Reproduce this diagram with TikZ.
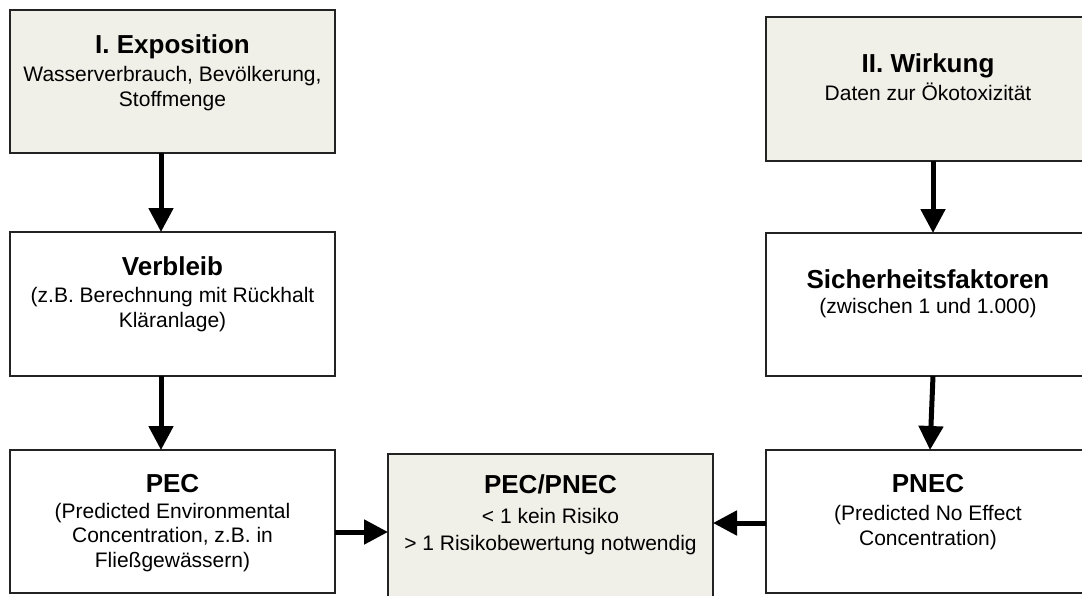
\documentclass[tikz,border=0pt]{standalone}
\usepackage{fontspec}
\setmainfont{Liberation Sans}
\usetikzlibrary{arrows.meta}
\definecolor{boxfill}{RGB}{240,240,232}
\definecolor{boxline}{RGB}{35,35,35}
\begin{document}
\begin{tikzpicture}[x=1pt,y=-1pt,
  box/.style={draw=boxline, line width=1.3pt, minimum width=325pt, minimum height=143pt,
    anchor=north west, inner sep=0pt, outer sep=0pt},
  shaded/.style={box, fill=boxfill},
  ttl/.style={font=\fontsize{26}{30}\selectfont\bfseries, anchor=base, inner sep=0pt},
  txt/.style={font=\fontsize{21}{24.5}\selectfont, anchor=base, align=center, inner sep=0pt},
  arr/.style={line width=5pt, -{Triangle[length=24pt,width=24pt]}}]
\useasboundingbox (0,0) rectangle (1082,595);
\clip (0,0) rectangle (1082,595);
% boxes
\node[shaded] (expo) at (10,10) {};
\node[shaded, minimum width=324pt, minimum height=144pt] (wirk) at (766,17) {};
\node[box, minimum height=144pt] (verb) at (10,232) {};
\node[box, minimum width=324pt] (sich) at (766,233) {};
\node[box] (pec) at (10,450) {};
\node[shaded, minimum height=150pt] (ratio) at (388,454) {};
\node[box, minimum width=324pt] (pnec) at (766,450) {};
% texts (multi-line nodes are placed at the baseline of their last line)
\node[ttl] (t1) at (172.5,53) {I. Exposition};
\node[txt] (s1) at (172.5,106) {Wasserverbrauch, Bevölkerung,\\Stoffmenge};
\node[ttl] (t2) at (928,72) {II. Wirkung};
\node[txt] (s2) at (928,100) {Daten zur Ökotoxizität};
\node[ttl] (t3) at (172.5,275) {Verbleib};
\node[txt] (s3) at (172.5,327) {(z.B. Berechnung mit Rückhalt\\Kläranlage)};
\node[ttl] (t4) at (928,288) {Sicherheitsfaktoren};
\node[txt] (s4) at (928,313) {(zwischen 1 und 1.000)};
\node[ttl] (t5) at (172.5,492) {PEC};
\node[txt] (s5) at (172.5,567) {(Predicted Environmental\\Concentration, z.B. in\\Fließgewässern)};
\node[ttl] (t6) at (550.5,493) {PEC/PNEC};
\node[txt, font=\fontsize{21}{27}\selectfont] (s6) at (550.5,550) {< 1 kein Risiko\\> 1 Risikobewertung notwendig};
\node[ttl] (t7) at (928,492) {PNEC};
\node[txt] (s7) at (928,545) {(Predicted No Effect\\Concentration)};
% arrows
\draw[arr] ([xshift=-11.5pt]expo.south) -- ([xshift=-11.5pt]verb.north);
\draw[arr] ([xshift=-11.5pt]verb.south) -- ([xshift=-11.5pt]pec.north);
\draw[arr] ([xshift=5pt]wirk.south) -- ([xshift=5pt]sich.north);
\draw[arr] ([xshift=5pt]sich.south) -- ([xshift=2pt]pnec.north);
\draw[arr] ([yshift=-10.5pt]pec.east) -- ([yshift=-10.5pt]pec.east -| ratio.west);
\draw[arr] ([yshift=-1.5pt]pnec.west) -- ([yshift=-1.5pt]pnec.west -| ratio.east);
\end{tikzpicture}
\end{document}
